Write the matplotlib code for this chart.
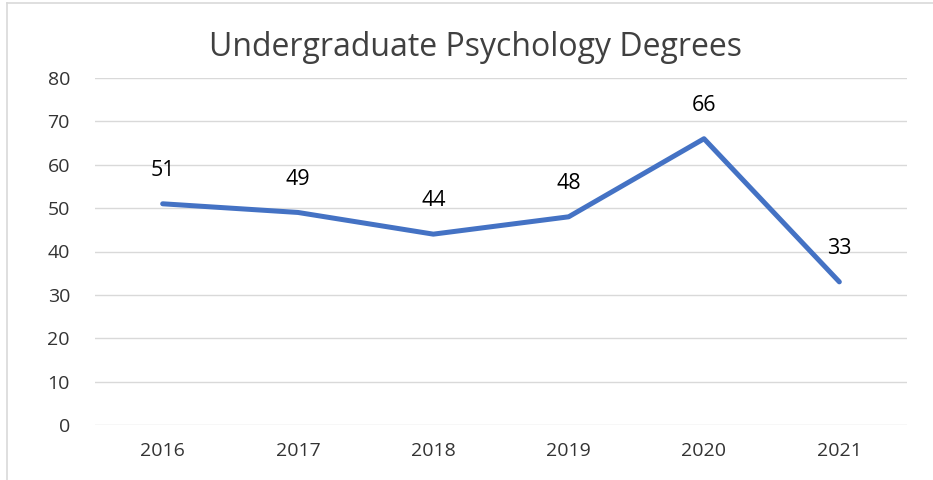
import matplotlib.pyplot as plt
from matplotlib.lines import Line2D

years = ["2016", "2017", "2018", "2019", "2020", "2021"]
degrees = [51, 49, 44, 48, 66, 33]

plt.rcParams['font.family'] = ['Open Sans', 'DejaVu Sans']

fig = plt.figure(figsize=(9.33, 4.8), dpi=100)
ax = fig.add_axes([95 / 933, 1 - 425 / 480, (907 - 95) / 933, 347 / 480])

x = list(range(len(years)))
ax.plot(x, degrees, color="#4472C4", linewidth=3.6, solid_capstyle="round",
        solid_joinstyle="round", zorder=3)

for xi, v in zip(x, degrees):
    ax.annotate(str(v), (xi, v), xytext=(0, 24), textcoords="offset points",
                ha="center", va="center", fontsize=15.5, color="#000000")

ax.set_xlim(-0.5, len(years) - 0.5)
ax.set_ylim(0, 80)
ax.set_yticks(range(0, 81, 10))
ax.set_xticks(x)
ax.set_xticklabels(years)
ax.grid(axis="y", color="#D9D9D9", linewidth=1)
ax.set_axisbelow(True)
for s in ax.spines.values():
    s.set_visible(False)
ax.tick_params(length=0, labelsize=14, colors="#333333", pad=12)
ax.tick_params(axis="y", pad=18)

fig.text(0.51, 1 - 47 / 480, "Undergraduate Psychology Degrees", ha="center",
         va="center", fontsize=23, color="#404040")

# chart border (left and top)
fig.add_artist(Line2D([7 / 933, 7 / 933], [0, 1 - 3 / 480], transform=fig.transFigure,
                      color="#D9D9D9", linewidth=1.2))
fig.add_artist(Line2D([7 / 933, 1], [1 - 3 / 480, 1 - 3 / 480], transform=fig.transFigure,
                      color="#D9D9D9", linewidth=1.2))

fig.savefig("out.png", dpi=100)
